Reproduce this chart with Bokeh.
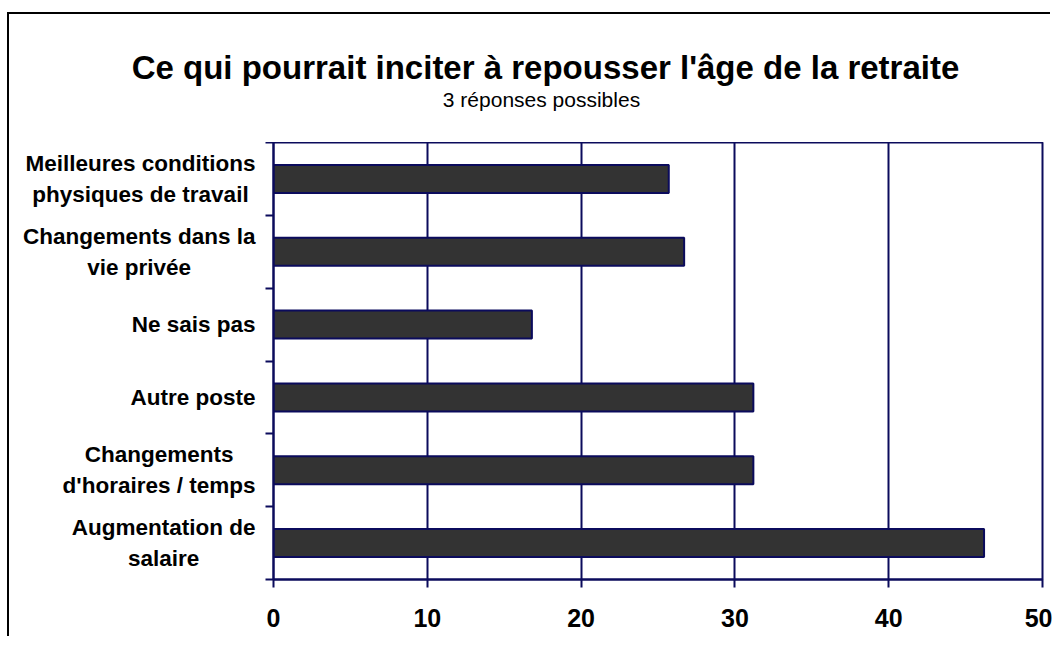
from bokeh.plotting import figure
from bokeh.layouts import column, row
from bokeh.models import Range1d, FixedTicker, ColumnDataSource
from bokeh.core.properties import value
from bokeh.embed import file_html
from bokeh.resources import INLINE

# ---- data (bottom to top) ----
categories = [
    "Augmentation de\nsalaire",
    "Changements\nd'horaires / temps",
    "Autre poste",
    "Ne sais pas",
    "Changements dans la\nvie privée",
    "Meilleures conditions\nphysiques de travail",
]
values = [46.2, 31.2, 31.2, 16.8, 26.7, 25.7]
x_ticks = [0, 10, 20, 30, 40, 50]
title_text = "Ce qui pourrait inciter à repousser l'âge de la retraite"
subtitle_text = "3 réponses possibles"

NAVY = "#0b0b5c"
FONT = "Liberation Sans"

n = len(categories)
ypos = [i + 0.5 for i in range(n)]
source = ColumnDataSource(dict(y=ypos, value=values))
label_source = ColumnDataSource(dict(x=[1.0] * n, y=ypos, text=categories))

y_range = Range1d(0, n)


def bare(fig):
    fig.xaxis.visible = False
    fig.yaxis.visible = False
    fig.grid.grid_line_color = None
    fig.outline_line_color = None
    fig.background_fill_color = "white"
    fig.border_fill_color = "white"


# ---- title strip ----
tfig = figure(width=1043, height=128, x_range=Range1d(0, 1043), y_range=Range1d(0, 128),
              output_backend="svg", toolbar_location=None,
              min_border=0, min_border_left=0, min_border_right=0,
              min_border_top=0, min_border_bottom=0)
bare(tfig)
tfig.text(x=[536], y=[75], text=[title_text], text_align="center",
          text_baseline="alphabetic", text_font=value(FONT),
          text_font_size="33px", text_font_style="bold", text_color="black")
tfig.text(x=[532], y=[43], text=[subtitle_text], text_align="center",
          text_baseline="alphabetic", text_font=value(FONT),
          text_font_size="21px", text_font_style="normal", text_color="black")

# ---- category label strip (shares the y range of the chart) ----
lfig = figure(width=254, height=496, x_range=Range1d(0, 1), y_range=y_range,
              output_backend="svg", toolbar_location=None,
              min_border=0, min_border_left=0, min_border_right=0,
              min_border_top=0, min_border_bottom=59)
bare(lfig)
lfig.text(x="x", y="y", text="text", source=label_source, x_offset=-8,
          anchor="center_right", text_align="center", text_baseline="middle",
          text_font=value(FONT), text_font_size="22.5px", text_font_style="bold",
          text_line_height=1.25, text_color="black")

# ---- chart ----
p = figure(
    width=789, height=496,
    x_range=Range1d(0, 50), y_range=y_range,
    output_backend="svg", toolbar_location=None,
    min_border_left=10, min_border_right=10,
    min_border_top=0, min_border_bottom=59,
)
p.background_fill_color = "white"
p.border_fill_color = "white"
p.outline_line_color = NAVY
p.outline_line_width = 2

p.hbar(y="y", right="value", left=0, height=0.385, source=source,
       fill_color="#333333", line_color=NAVY, line_width=2)

p.ygrid.grid_line_color = None
p.xgrid.grid_line_color = NAVY
p.xgrid.grid_line_width = 2

p.xaxis.ticker = FixedTicker(ticks=x_ticks)
p.xaxis.axis_line_color = NAVY
p.xaxis.axis_line_width = 2
p.xaxis.major_tick_line_color = NAVY
p.xaxis.major_tick_line_width = 2
p.xaxis.major_tick_out = 8
p.xaxis.major_tick_in = 0
p.xaxis.minor_tick_line_color = None
p.xaxis.major_label_text_font = FONT
p.xaxis.major_label_text_font_size = "25px"
p.xaxis.major_label_text_font_style = "bold"
p.xaxis.major_label_text_color = "black"
p.xaxis.major_label_standoff = 21

p.yaxis.ticker = FixedTicker(ticks=list(range(n + 1)))
p.yaxis.major_label_overrides = {i: "" for i in range(n + 1)}
p.yaxis.axis_line_color = NAVY
p.yaxis.axis_line_width = 2
p.yaxis.major_tick_line_color = NAVY
p.yaxis.major_tick_line_width = 2
p.yaxis.major_tick_out = 8
p.yaxis.major_tick_in = 0
p.yaxis.minor_tick_line_color = None
p.yaxis.major_label_standoff = 0

layout = column(tfig, row(lfig, p, spacing=0), spacing=0)
layout.styles = {"margin-left": "9px", "margin-top": "14px",
                 "box-shadow": "-2px -2px 0 0 #000000"}

open("out.html", "w").write(file_html(layout, INLINE))
